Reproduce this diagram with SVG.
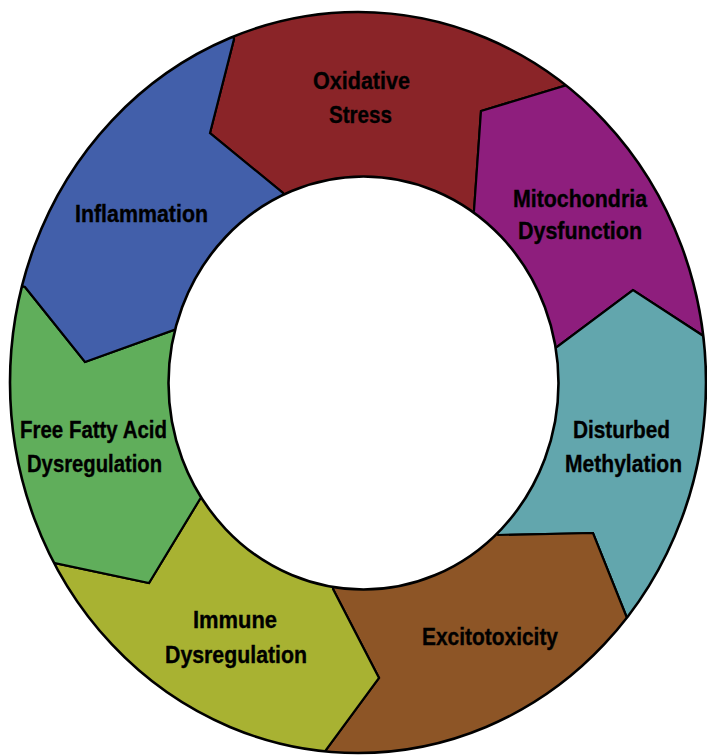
<svg xmlns="http://www.w3.org/2000/svg" width="707" height="756" viewBox="0 0 707 756">
<style>
.seg{stroke:#000;stroke-width:2.2;stroke-linejoin:miter}
.lbl{font-family:"Liberation Sans",Arial,sans-serif;font-weight:bold;font-size:24px;fill:#000;stroke:#000;stroke-width:0.35;text-anchor:middle}
.ring{fill:none;stroke:#000;stroke-width:2.6}
</style>
<defs>
<clipPath id="ringclip">
<path clip-rule="evenodd" d="M10,382.5 A348,370.5 0 1,0 706,382.5 A348,370.5 0 1,0 10,382.5 Z M168.5,383 A195,206.5 0 1,0 558.5,383 A195,206.5 0 1,0 168.5,383 Z"/>
</clipPath>
</defs>
<rect width="707" height="756" fill="#fff"/>
<g clip-path="url(#ringclip)">
<g id="oxidative-stress">
<polygon class="seg" fill="#8A2428" points="360,383 283,193 210,133 234,39 158,-167 691,-94 567,85 481,111 474,211"/>
</g>
<g id="mitochondria-dysfunction">
<polygon class="seg" fill="#8E1E7D" points="360,383 474,211 481,111 567,85 691,-94 912,309 705,337 633,290 557,347"/>
</g>
<g id="disturbed-methylation">
<polygon class="seg" fill="#62A6AD" points="360,383 557,347 633,290 705,337 912,309 790,767 629,623 593,533 498,535"/>
</g>
<g id="excitotoxicity">
<polygon class="seg" fill="#8D5526" points="360,383 498,535 593,533 629,623 790,767 301,977 323,754 379,678 333,589"/>
</g>
<g id="immune-dysregulation">
<polygon class="seg" fill="#A8B232" points="360,383 333,589 379,678 323,754 301,977 -130,671 54,563 149,583 200,499"/>
</g>
<g id="ffa-dysregulation">
<polygon class="seg" fill="#60AE5B" points="360,383 200,499 149,583 54,563 -130,671 -176,229 25,287 85,362 174,330"/>
</g>
<g id="inflammation">
<polygon class="seg" fill="#425FAA" points="360,383 174,330 85,362 25,287 -176,229 -150,-200 158,-167 234,39 210,133 283,193"/>
</g>
</g>
<g id="ring-outline">
<ellipse class="ring" cx="358" cy="382.5" rx="348" ry="370.5"/>
<ellipse class="ring" cx="363.5" cy="383" rx="195" ry="206.5" fill="#fff"/>
</g>
<g id="labels">
<text class="lbl" x="361.5" y="89" textLength="97" lengthAdjust="spacingAndGlyphs">Oxidative</text>
<text class="lbl" x="360.5" y="123" textLength="63" lengthAdjust="spacingAndGlyphs">Stress</text>
<text class="lbl" x="580" y="207" textLength="134" lengthAdjust="spacingAndGlyphs">Mitochondria</text>
<text class="lbl" x="580" y="239" textLength="124" lengthAdjust="spacingAndGlyphs">Dysfunction</text>
<text class="lbl" x="621.5" y="438" textLength="97" lengthAdjust="spacingAndGlyphs">Disturbed</text>
<text class="lbl" x="623.5" y="472" textLength="117" lengthAdjust="spacingAndGlyphs">Methylation</text>
<text class="lbl" x="490" y="645" textLength="136" lengthAdjust="spacingAndGlyphs">Excitotoxicity</text>
<text class="lbl" x="235" y="628" textLength="84" lengthAdjust="spacingAndGlyphs">Immune</text>
<text class="lbl" x="236" y="663" textLength="142" lengthAdjust="spacingAndGlyphs">Dysregulation</text>
<text class="lbl" x="93.5" y="438" textLength="147" lengthAdjust="spacingAndGlyphs">Free Fatty Acid</text>
<text class="lbl" x="94.5" y="472" textLength="135" lengthAdjust="spacingAndGlyphs">Dysregulation</text>
<text class="lbl" x="141.5" y="222" textLength="133" lengthAdjust="spacingAndGlyphs">Inflammation</text>
</g>
</svg>
